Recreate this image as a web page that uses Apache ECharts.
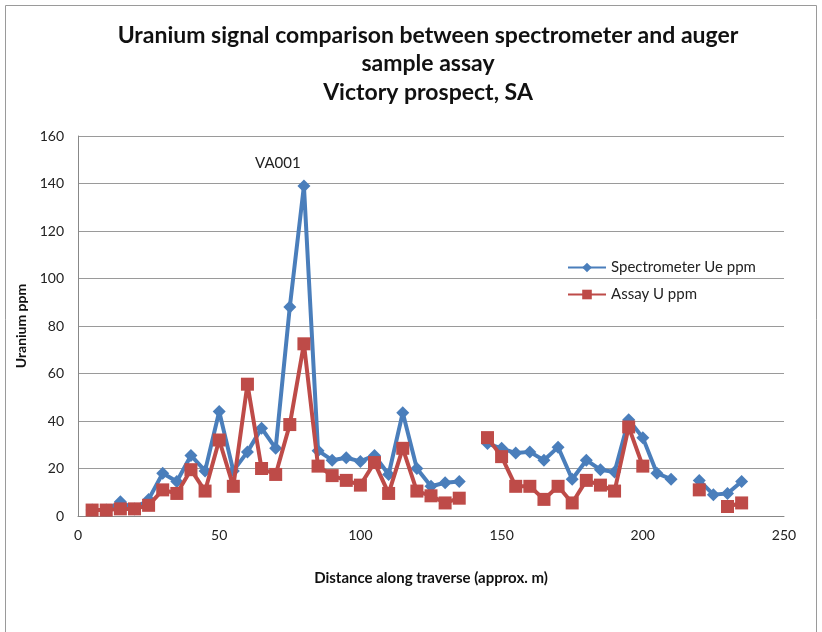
<!DOCTYPE html>
<html>
<head>
<meta charset="utf-8">
<script src="https://cdn.jsdelivr.net/npm/echarts@6/dist/echarts.min.js"></script>
<style>
html,body{margin:0;padding:0;background:#fff;}
#c{width:822px;height:632px;}
</style>
</head>
<body>
<div id="c"></div>
<script>
const distances = [5,10,15,20,25,30,35,40,45,50,55,60,65,70,75,80,85,90,95,100,105,110,115,120,125,130,135,140,145,150,155,160,165,170,175,180,185,190,195,200,205,210,215,220,225,230,235];
const spectrometer = [2.5,2.5,6,3,7,18,14.5,25.5,19,44,19,27,37,28.5,88,139,27.5,23.5,24.5,23,25.5,17.5,43.5,20,12.5,14,14.5,null,30.5,28.5,26.5,27,23.5,29,15.5,23.5,19.5,18.5,40.5,33,18,15.5,null,15,9,9.5,14.5];
const assay = [2.5,2.5,3,3,4.5,11,9.5,19.5,10.5,32,12.5,55.5,20,17.5,38.5,72.5,21,17,15,13,22.5,9.5,28.5,10.5,8.5,5.5,7.5,null,33,25,12.5,12.5,7,12.5,5.5,15,13,10.5,37.5,21,null,null,null,11,null,4,5.5];
const annotationX = 80;
const annotationText = 'VA001';

const FONT = 'Lato';
function pairs(vals){
  return distances.map((d,i)=>{
    const v = vals[i];
    if (v === null) return [d,'-'];
    if (d === annotationX && vals === spectrometer) {
      return {value:[d,v], label:{show:true, formatter:annotationText, position:'top', offset:[-26,-4], color:'#222', fontFamily:FONT, fontSize:15}};
    }
    return [d,v];
  });
}
const chart = echarts.init(document.getElementById('c'));
chart.setOption({
  animation:false,
  backgroundColor:'#fff',
  title:{
    text:'Uranium signal comparison between spectrometer and auger\nsample assay\nVictory prospect, SA',
    left:423, textAlign:'center', top:16,
    textStyle:{fontFamily:FONT, fontWeight:'bold', fontSize:23, lineHeight:28.5, color:'#111', align:'center'}
  },
  graphic:[{type:'rect', shape:{x:5.5,y:5.5,width:811,height:640}, style:{fill:'none', stroke:'#9a9a9a', lineWidth:1}}],
  legend:{
    orient:'vertical', left:562, top:255, itemGap:12, itemWidth:38, itemHeight:12,
    textStyle:{fontFamily:FONT, fontSize:15, color:'#222'},
    data:['Spectrometer Ue ppm','Assay U ppm']
  },
  grid:{left:78, right:38, top:136, bottom:116},
  xAxis:{
    type:'value', min:0, max:250, interval:50,
    name:'Distance along traverse (approx. m)', nameLocation:'middle', nameGap:55,
    nameTextStyle:{fontFamily:FONT, fontWeight:'bold', fontSize:15, color:'#111'},
    axisLine:{show:true, lineStyle:{color:'#888', width:1}},
    axisTick:{show:false},
    axisLabel:{fontFamily:FONT, fontSize:14, color:'#222', margin:12},
    splitLine:{show:false}
  },
  yAxis:{
    type:'value', min:0, max:160, interval:20,
    name:'Uranium ppm', nameLocation:'middle', nameGap:48, nameRotate:90,
    nameTextStyle:{fontFamily:FONT, fontWeight:'bold', fontSize:14, color:'#111'},
    axisLine:{show:true, lineStyle:{color:'#888', width:1}},
    axisTick:{show:false},
    axisLabel:{fontFamily:FONT, fontSize:14, color:'#222', margin:14},
    splitLine:{show:true, lineStyle:{color:'#9a9a9a', width:1}}
  },
  series:[
    {name:'Spectrometer Ue ppm', type:'line', data:pairs(spectrometer), connectNulls:false,
     symbol:'diamond', symbolSize:13, color:'#4a7ebb',
     lineStyle:{width:4, color:'#4a7ebb'}, itemStyle:{color:'#4a7ebb'}, z:2},
    {name:'Assay U ppm', type:'line', data:pairs(assay), connectNulls:false,
     symbol:'rect', symbolSize:13, color:'#be4b48',
     lineStyle:{width:4, color:'#be4b48'}, itemStyle:{color:'#be4b48'}, z:3}
  ]
});
</script>
</body>
</html>
